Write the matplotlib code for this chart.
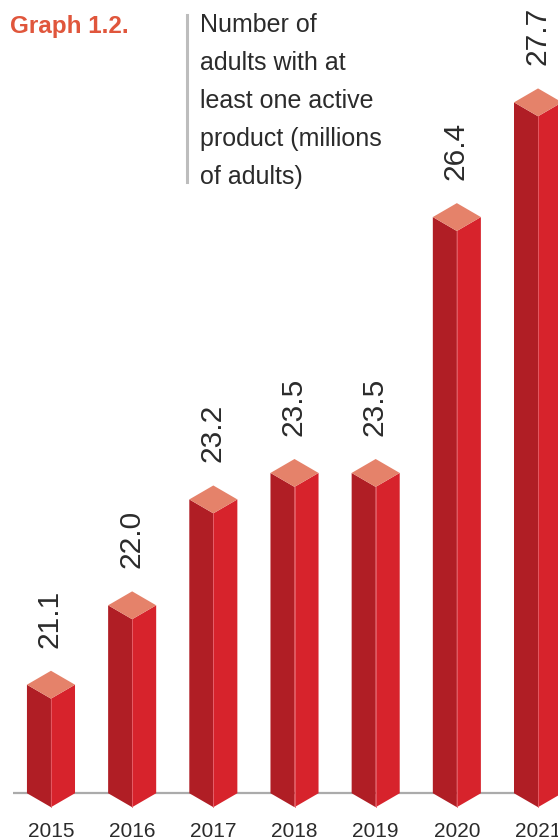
import matplotlib
matplotlib.use("Agg")
import matplotlib.pyplot as plt
from matplotlib.patches import Polygon

# Data
years = ["2015", "2016", "2017", "2018", "2019", "2020", "2021"]
adults_millions = [21.1, 22.0, 23.2, 23.5, 23.5, 26.4, 27.7]
value_labels = ["21.1", "22.0", "23.2", "23.5", "23.5", "26.4", "27.7"]

title = "Graph 1.2."
subtitle_lines = ["Number of", "adults with at", "least one active",
                  "product (millions", "of adults)"]

# Styling
C_LEFT = "#B01E25"
C_RIGHT = "#D7232C"
C_TOP = "#E5826A"
C_EDGE = "#E6606A"
C_TITLE = "#E0563C"
C_TEXT = "#2B2B2B"
C_AXIS = "#ABABAB"

FLOOR = 19.87          # value at the axis line
HALF_W = 0.296         # half bar width (category units)
DEPTH = 0.158          # vertical depth of the prism faces (value units)

fig = plt.figure(figsize=(5.58, 8.40), dpi=100)
ax = fig.add_axes([0, 0, 1, 1])
ax.set_xlim(-0.628, 6.246)
ax.set_ylim(19.34, 28.86)
ax.axis("off")

# axis line behind the bars
ax.plot([-0.47, 6.3], [FLOOR, FLOOR], color=C_AXIS, lw=1.6, zorder=1,
        solid_capstyle="butt")

for i, (v, lab, yr) in enumerate(zip(adults_millions, value_labels, years)):
    left = Polygon([(i - HALF_W, FLOOR), (i, FLOOR - DEPTH), (i, v - DEPTH),
                    (i - HALF_W, v)], closed=True, fc=C_LEFT, ec="none", zorder=2)
    right = Polygon([(i, FLOOR - DEPTH), (i + HALF_W, FLOOR), (i + HALF_W, v),
                     (i, v - DEPTH)], closed=True, fc=C_RIGHT, ec="none", zorder=2)
    top = Polygon([(i - HALF_W, v), (i, v + DEPTH), (i + HALF_W, v),
                   (i, v - DEPTH)], closed=True, fc=C_TOP, ec="none", zorder=3)
    for p in (left, right, top):
        ax.add_patch(p)
    ax.plot([i, i], [FLOOR - DEPTH, v - DEPTH], color=C_EDGE, lw=0.6, zorder=2.5)

    ax.annotate(lab, xy=(i, v + DEPTH), xytext=(-1, 23), textcoords="offset pixels",
                rotation=90, ha="center", va="bottom", fontsize=21.5,
                family="Liberation Sans", color=C_TEXT)
    ax.annotate(yr, xy=(i, FLOOR), xytext=(0, -29), textcoords="offset pixels",
                ha="center", va="top", fontsize=15,
                family="Liberation Sans", color=C_TEXT)

# heading block
fig.text(10 / 558, 1 - 27 / 840, title, color=C_TITLE, fontsize=17.5,
         fontweight="bold", family="Liberation Sans", ha="left", va="center")
fig.add_artist(plt.Line2D([187 / 558, 187 / 558], [1 - 15 / 840, 1 - 182 / 840],
                          color="#BDBDBD", lw=2.2))
for k, line in enumerate(subtitle_lines):
    fig.text(200 / 558, 1 - (25 + 38 * k) / 840, line, color=C_TEXT,
             fontsize=18, family="Liberation Sans", ha="left", va="center")

fig.savefig("out.png", dpi=100)
